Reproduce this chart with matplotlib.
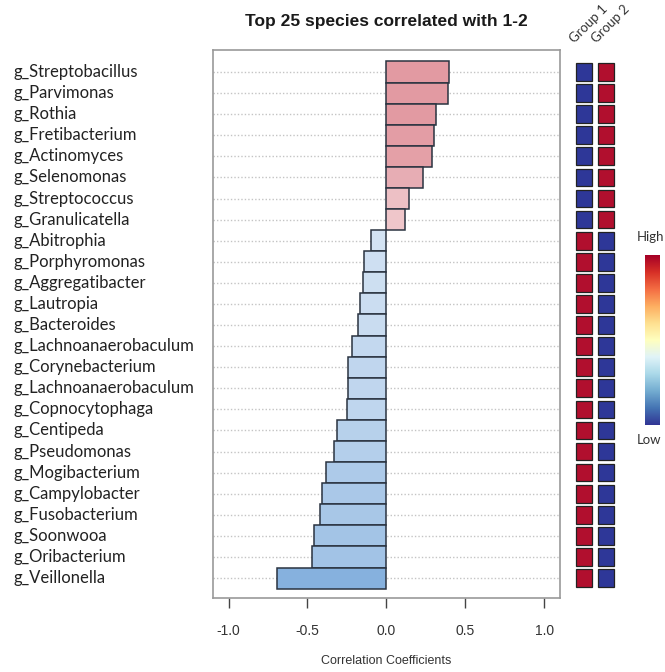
import numpy as np
import matplotlib
matplotlib.use('Agg')
import matplotlib.pyplot as plt
from matplotlib.colors import to_rgb

# Données
species = ['g_Streptobacillus', 'g_Parvimonas', 'g_Rothia', 'g_Fretibacterium',
           'g_Actinomyces', 'g_Selenomonas', 'g_Streptococcus', 'g_Granulicatella',
           'g_Abitrophia', 'g_Porphyromonas', 'g_Aggregatibacter', 'g_Lautropia',
           'g_Bacteroides', 'g_Lachnoanaerobaculum', 'g_Corynebacterium',
           'g_Lachnoanaerobaculum', 'g_Copnocytophaga', 'g_Centipeda',
           'g_Pseudomonas', 'g_Mogibacterium', 'g_Campylobacter', 'g_Fusobacterium',
           'g_Soonwooa', 'g_Oribacterium', 'g_Veillonella']
corr = [0.40, 0.39, 0.315, 0.30, 0.29, 0.23, 0.145, 0.12,
        -0.10, -0.14, -0.15, -0.165, -0.18, -0.22, -0.245, -0.245, -0.25,
        -0.31, -0.33, -0.385, -0.41, -0.42, -0.46, -0.47, -0.69]
# 1 = high (rouge), 0 = low (bleu)
group1 = [0] * 8 + [1] * 17
group2 = [1] * 8 + [0] * 17
groups = ['Group 1', 'Group 2']
xticks = [-1.0, -0.5, 0.0, 0.5, 1.0]


def mix(c, t):
    c = np.array(to_rgb(c))
    return tuple(1 - (1 - c) * t)


def bar_color(v):
    if v >= 0:
        return mix('#e29aa2', min(1, 0.3 + v / 0.45))
    return mix('#86b1de', min(1, 0.25 + abs(v) / 0.9))


fig = plt.figure(figsize=(6.65, 6.72), dpi=100)
ax = fig.add_axes([0.320, 0.110, 0.522, 0.8155])

y = np.arange(len(species))
ax.barh(y, corr, height=1.0, color=[bar_color(v) for v in corr],
        edgecolor='#2a3340', linewidth=1.1, zorder=3)
for yi in y:
    ax.axhline(yi, color='#c4c4c4', linestyle=(0, (1, 1.5)), linewidth=1.0, zorder=1)

ax.set_xlim(-1.1, 1.1)
ax.set_ylim(24.95, -1.04)
ax.set_yticks([])
ax.set_xticks(xticks)
ax.set_xticklabels(['%.1f' % t for t in xticks], fontsize=10, color='#333333',
                   family='Liberation Sans')
ax.tick_params(axis='x', length=7, width=1, color='#444444', pad=12)
for s in ax.spines.values():
    s.set_color('#999999')
    s.set_linewidth(1.2)
ax.set_xlabel('Correlation Coefficients', fontsize=9, color='#333333',
              family='Liberation Sans', labelpad=12)
ax.set_title('Top 25 species correlated with 1-2', fontsize=12.5, fontweight='bold',
             family='Liberation Sans', pad=17, color='#1a1a1a')

trans = matplotlib.transforms.blended_transform_factory(fig.transFigure, ax.transData)
for yi, name in zip(y, species):
    ax.text(0.021, yi, name, transform=trans, ha='left', va='center',
            fontsize=12, family='Lato', color='#222222')

# Heatmap des groupes
hx = fig.add_axes([573 / 665, 0.110, 44 / 665, 0.8155])
hx.set_xlim(-0.5, 1.5)
hx.set_ylim(24.95, -1.04)
hx.axis('off')
for col, vals in enumerate([group1, group2]):
    cols = ['#b10f2e' if v else '#2e3798' for v in vals]
    hx.bar([col] * len(vals), 0.84, width=0.76, bottom=y - 0.42, color=cols,
           edgecolor='#222222', linewidth=0.9)
for col, g in enumerate(groups):
    hx.text(col - 0.35, -1.3, g, rotation=45, ha='left', va='bottom',
            rotation_mode='anchor', fontsize=9.5, color='#333333', family='Lato')

# Légende de couleur
cx = fig.add_axes([645 / 665, 1 - 425 / 672, 15 / 665, 170 / 672])
grad = np.linspace(1, 0, 256).reshape(-1, 1)
cx.imshow(grad, aspect='auto', cmap='RdYlBu_r')
cx.set_xticks([])
cx.set_yticks([])
for s in cx.spines.values():
    s.set_visible(False)
fig.text(637 / 665, 1 - 237 / 672, 'High', fontsize=9.5, color='#333333', family='Lato',
         ha='left', va='center')
fig.text(637 / 665, 1 - 440 / 672, 'Low', fontsize=9.5, color='#333333', family='Lato',
         ha='left', va='center')

fig.savefig('out.png', dpi=100, facecolor='white')
